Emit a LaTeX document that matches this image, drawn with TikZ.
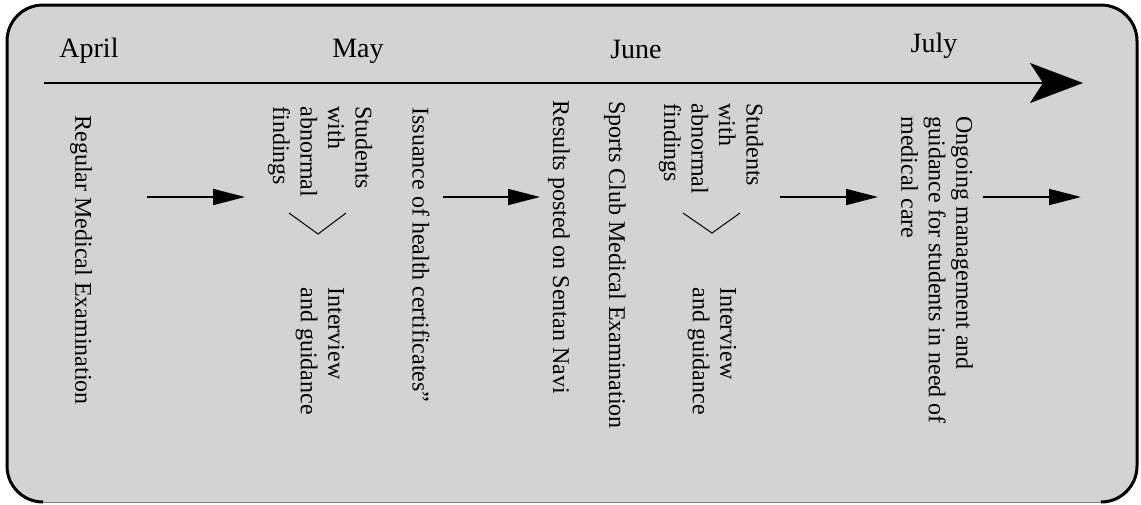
\documentclass[tikz,border=0pt]{standalone}
\usepackage{fontspec}
\setmainfont{Liberation Serif}
\usepackage{xcolor}
\usetikzlibrary{arrows.meta, positioning}
\definecolor{panelgray}{RGB}{211,211,211}

\begin{document}
\begin{tikzpicture}[
  x=0.5pt, y=-0.5pt,
  month/.style={anchor=base, inner sep=0pt, font=\fontsize{14}{16}\selectfont},
  vtext/.style={rotate=-90, anchor=west, inner sep=0pt, align=left,
    font=\fontsize{12}{13.75}\selectfont},
  flow/.style={-{Triangle[length=16pt, width=8pt]}, line width=0.9pt},
  timeline/.style={-{Stealth[length=26.5pt, width=20pt, inset=6.5pt]}, line width=1pt},
  chev/.style={line width=0.5pt}
]
\useasboundingbox (0,0) rectangle (1141,504);
% panel
\fill[panelgray, rounded corners=18pt] (7,5) rectangle (1137,502);
\draw[gray, line width=0.5pt] (43,502) -- (1101,502);
\draw[line width=1.5pt, rounded corners=18pt] (43,502) -- (7,502) -- (7,5) -- (1137,5) -- (1137,502) -- (1101,502);

% months
\node[month] (april) at (89,57) {April};
\node[month] (may) at (358,57) {May};
\node[month] (june) at (636,58) {June};
\node[month] (july) at (934,52) {July};

% time axis
\coordinate (t0) at (44,83);
\coordinate (t1) at (1083,83);
\draw[timeline] (t0) -- (t1);

% steps
\node[vtext] (regular) at (81,115) {Regular Medical Examination};
\node[vtext] (findA) at (320,106) {Students\\with\\abnormal\\findings};
\node[vtext] (talkA) at (320,287) {Interview\\and guidance};
\node[vtext] (cert) at (421,107) {Issuance of health certificates”};
\node[vtext] (results) at (559,100) {Results posted on Sentan Navi};
\node[vtext] (sports) at (615,101) {Sports Club Medical Examination};
\node[vtext] (findB) at (711,103) {Students\\with\\abnormal\\findings};
\node[vtext] (talkB) at (712,287) {Interview\\and guidance};
\node[vtext] (ongoing) at (937,116) {Ongoing management and\\guidance for students in need of\\medical care};

% branch marks
\draw[chev] (289,213) -- (318,234) -- (346,213);
\draw[chev] (683,213) -- (712,233) -- (740,213);

% flow arrows
\coordinate (a1) at (147,197); \coordinate (b1) at (245,197);
\coordinate (a2) at (443,197); \coordinate (b2) at (540,197);
\coordinate (a3) at (780,197); \coordinate (b3) at (878,197);
\coordinate (a4) at (983,197); \coordinate (b4) at (1081,197);
\draw[flow] (a1) -- (b1);
\draw[flow] (a2) -- (b2);
\draw[flow] (a3) -- (b3);
\draw[flow] (a4) -- (b4);
\end{tikzpicture}
\end{document}
